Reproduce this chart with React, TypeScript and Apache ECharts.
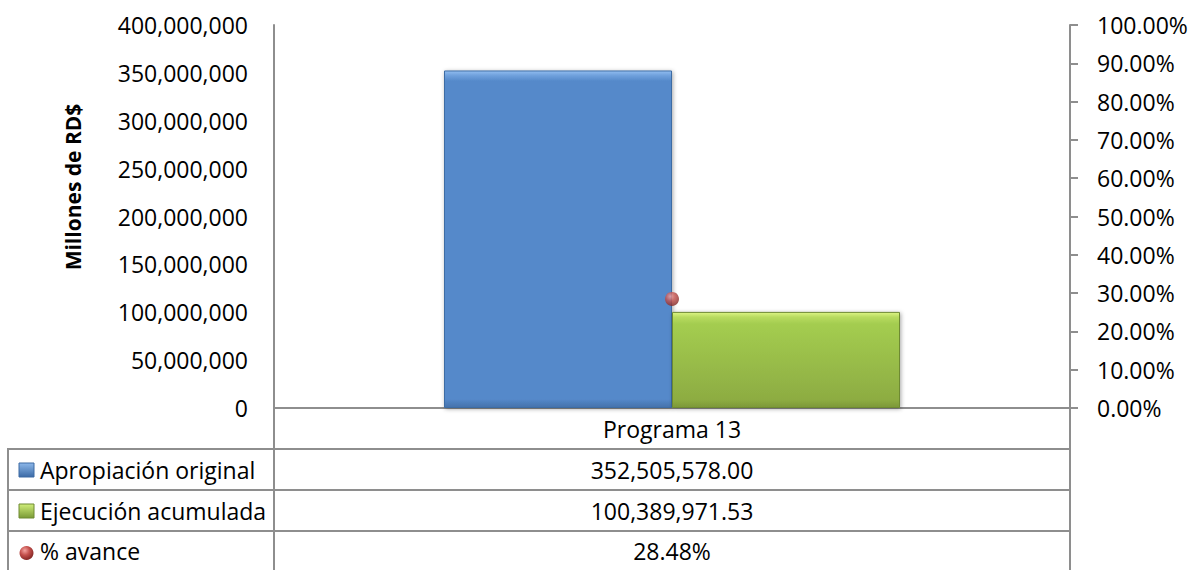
import React, { useEffect, useRef } from "react";
import * as echarts from "echarts";

const categories = ["Programa 13"];
const seriesNames = ["Apropiación original", "Ejecución acumulada", "% avance"];
const apropiacion = [352505578.0];
const ejecucion = [100389971.53];
const avance = [28.48];
const leftTicks = { min: 0, max: 400000000, interval: 50000000 };
const rightTicks = { min: 0, max: 100, interval: 10 };

const FONT = "'Open Sans', 'Noto Sans', sans-serif";
const FS = 23;
const LINE = "#8e8e8e";

const fmtMoney = (v: number) =>
  v.toLocaleString("en-US", { minimumFractionDigits: 2, maximumFractionDigits: 2 });

export default function App() {
  const ref = useRef<HTMLDivElement>(null);
  useEffect(() => {
    document.body.style.margin = "0";
    const chart = echarts.init(ref.current!, null, { renderer: "svg" });

    const blueGrad = new echarts.graphic.LinearGradient(0, 0, 0, 1, [
      { offset: 0, color: "#92BEF0" },
      { offset: 0.012, color: "#72A3DE" },
      { offset: 0.03, color: "#5589CA" },
      { offset: 0.975, color: "#5589CA" },
      { offset: 1, color: "#4572AB" },
    ]);
    const greenGrad = new echarts.graphic.LinearGradient(0, 0, 0, 1, [
      { offset: 0, color: "#DDF584" },
      { offset: 0.05, color: "#B8DB60" },
      { offset: 0.12, color: "#A4CD50" },
      { offset: 0.92, color: "#8DAC42" },
      { offset: 1, color: "#7C9838" },
    ]);
    const sphere = new echarts.graphic.RadialGradient(0.38, 0.32, 0.75, [
      { offset: 0, color: "#F4A3A0" },
      { offset: 0.45, color: "#C4504C" },
      { offset: 1, color: "#7A201E" },
    ]);
    const blueKey = new echarts.graphic.LinearGradient(0, 0, 0, 1, [
      { offset: 0, color: "#8DB8EA" },
      { offset: 1, color: "#3B6AA6" },
    ]);
    const greenKey = new echarts.graphic.LinearGradient(0, 0, 0, 1, [
      { offset: 0, color: "#D0EE7A" },
      { offset: 1, color: "#7A9A36" },
    ]);

    const rowsY = [449, 490, 531];
    const rowCenters = [469.5, 510.5, 551];
    const rowValues = [
      fmtMoney(apropiacion[0]),
      fmtMoney(ejecucion[0]),
      avance[0].toFixed(2) + "%",
    ];
    const keys = [
      { type: "rect", shape: { x: 19, y: 463, width: 15, height: 14 }, style: { fill: blueKey, stroke: "#3D6BA3", lineWidth: 1 } },
      { type: "rect", shape: { x: 19, y: 504, width: 15, height: 14 }, style: { fill: greenKey, stroke: "#6E8A32", lineWidth: 1 } },
      { type: "circle", shape: { cx: 26.5, cy: 553, r: 7 }, style: { fill: sphere } },
    ];

    const graphic: any[] = [
      {
        type: "text",
        x: 73,
        y: 187,
        rotation: Math.PI / 2,
        style: {
          text: "Millones de RD$",
          font: `bold 21px ${FONT}`,
          fill: "#000",
          align: "center",
          verticalAlign: "middle",
        },
      },
      ...rowsY.map((y) => ({
        type: "line",
        shape: { x1: 8, y1: y, x2: 1070, y2: y },
        style: { stroke: LINE, lineWidth: 2 },
      })),
      { type: "line", shape: { x1: 8, y1: 448, x2: 8, y2: 570 }, style: { stroke: LINE, lineWidth: 2 } },
      { type: "line", shape: { x1: 274, y1: 408, x2: 274, y2: 570 }, style: { stroke: LINE, lineWidth: 2 } },
      { type: "line", shape: { x1: 1070, y1: 408, x2: 1070, y2: 570 }, style: { stroke: LINE, lineWidth: 2 } },
      ...keys,
      ...seriesNames.map((n, i) => ({
        type: "text",
        x: 40,
        y: rowCenters[i],
        style: { text: n, font: `${FS}px ${FONT}`, fill: "#000", align: "left", verticalAlign: "middle" },
      })),
      ...rowValues.map((v, i) => ({
        type: "text",
        x: 672,
        y: rowCenters[i],
        style: { text: v, font: `${FS}px ${FONT}`, fill: "#000", align: "center", verticalAlign: "middle" },
      })),
    ];

    chart.setOption({
      animation: false,
      backgroundColor: "#fff",
      grid: { left: 274, top: 25, width: 796, height: 383 },
      xAxis: {
        type: "category",
        data: categories,
        axisLine: { show: true, lineStyle: { color: LINE, width: 2 } },
        axisTick: { show: false },
        axisLabel: {
          show: true,
          margin: 9,
          fontFamily: FONT,
          fontSize: FS,
          color: "#000",
        },
      },
      yAxis: [
        {
          type: "value",
          min: leftTicks.min,
          max: leftTicks.max,
          interval: leftTicks.interval,
          position: "left",
          axisLine: { show: true, lineStyle: { color: LINE, width: 2 } },
          axisTick: { show: false },
          splitLine: { show: false },
          axisLabel: {
            margin: 26,
            fontFamily: FONT,
            fontSize: FS,
            color: "#000",
            formatter: (v: number) => v.toLocaleString("en-US"),
          },
        },
        {
          type: "value",
          min: rightTicks.min,
          max: rightTicks.max,
          interval: rightTicks.interval,
          position: "right",
          axisLine: { show: true, lineStyle: { color: LINE, width: 2 } },
          axisTick: { show: true, inside: false, length: 8, lineStyle: { color: LINE, width: 2 } },
          splitLine: { show: false },
          axisLabel: {
            margin: 27,
            fontFamily: FONT,
            fontSize: FS,
            color: "#000",
            formatter: (v: number) => v.toFixed(2) + "%",
          },
        },
      ],
      series: [
        {
          name: seriesNames[0],
          type: "bar",
          yAxisIndex: 0,
          data: apropiacion,
          barWidth: 228,
          barGap: "0%",
          itemStyle: {
            color: blueGrad,
            borderColor: "#3E6CA4",
            borderWidth: 1,
            shadowColor: "rgba(0,0,0,0.35)",
            shadowBlur: 4,
            shadowOffsetX: 1,
            shadowOffsetY: 1,
          },
        },
        {
          name: seriesNames[1],
          type: "bar",
          yAxisIndex: 0,
          data: ejecucion,
          barWidth: 228,
          barGap: "0%",
          itemStyle: {
            color: greenGrad,
            borderColor: "#6E8A32",
            borderWidth: 1,
            shadowColor: "rgba(0,0,0,0.35)",
            shadowBlur: 4,
            shadowOffsetX: 1,
            shadowOffsetY: 1,
          },
        },
        {
          name: seriesNames[2],
          type: "scatter",
          yAxisIndex: 1,
          data: avance,
          symbol: "circle",
          symbolSize: 14,
          z: 5,
          itemStyle: { color: sphere },
        },
      ],
      graphic,
    });
    return () => chart.dispose();
  }, []);
  return <div ref={ref} style={{ width: 1193, height: 570 }} />;
}
